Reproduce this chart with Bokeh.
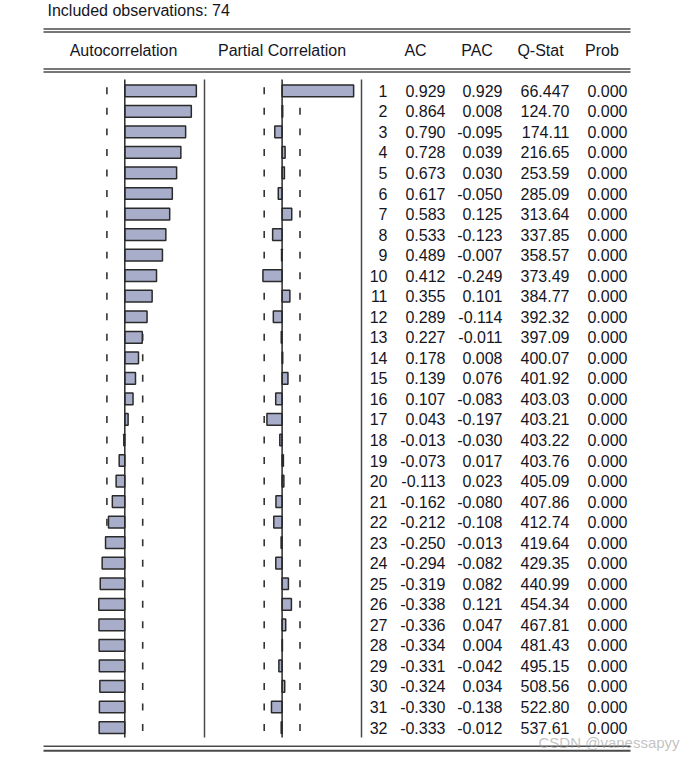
import numpy as np
from bokeh.plotting import figure
from bokeh.models import Range1d, ColumnDataSource
from bokeh.embed import file_html
from bokeh.resources import INLINE
from bokeh.core.properties import value

# ---------------- data ----------------
n_obs = 74
lags = list(range(1, 33))
ac = [0.929, 0.864, 0.790, 0.728, 0.673, 0.617, 0.583, 0.533, 0.489, 0.412,
      0.355, 0.289, 0.227, 0.178, 0.139, 0.107, 0.043, -0.013, -0.073, -0.113,
      -0.162, -0.212, -0.250, -0.294, -0.319, -0.338, -0.336, -0.334, -0.331,
      -0.324, -0.330, -0.333]
pac = [0.929, 0.008, -0.095, 0.039, 0.030, -0.050, 0.125, -0.123, -0.007,
       -0.249, 0.101, -0.114, -0.011, 0.008, 0.076, -0.083, -0.197, -0.030,
       0.017, 0.023, -0.080, -0.108, -0.013, -0.082, 0.082, 0.121, 0.047,
       0.004, -0.042, 0.034, -0.138, -0.012]
qstat = [66.447, 124.70, 174.11, 216.65, 253.59, 285.09, 313.64, 337.85,
         358.57, 373.49, 384.77, 392.32, 397.09, 400.07, 401.92, 403.03,
         403.21, 403.22, 403.76, 405.09, 407.86, 412.74, 419.64, 429.35,
         440.99, 454.34, 467.81, 481.43, 495.15, 508.56, 522.80, 537.61]
prob = [0.000] * 32
headers = ["AC", "PAC", "Q-Stat", "Prob"]
panel_titles = ["Autocorrelation", "Partial Correlation"]
title_text = "Included observations: %d" % n_obs
watermark = "CSDN @vanessapyy"

# ---------------- formatting ----------------
def fmt_q(q):
    digits = len(str(int(abs(q))))
    return f"{q:.{5 - digits}f}"

bound = 2.0 / np.sqrt(n_obs)
src = ColumnDataSource(dict(
    lag=lags,
    lag_s=[str(l) for l in lags],
    ac=ac, pac=pac,
    ac_s=[f"{v:.3f}" for v in ac],
    pac_s=[f"{v:.3f}" for v in pac],
    q_s=[fmt_q(q) for q in qstat],
    p_s=[f"{v:.3f}" for v in prob],
    zero=[0.0] * 32,
    lo=[l - 0.17 for l in lags],
    hi=[l + 0.17 for l in lags],
    bneg=[-bound] * 32,
    bpos=[bound] * 32,
))

# ---------------- layout constants ----------------
W, H = 696, 760
K = 77.0          # px per correlation unit
AC0 = 124.3       # px position of AC zero
PAC0 = 281.6      # px position of PAC zero
Y1 = 90.3         # px position of lag 1
S = 20.54         # px per lag row

FONT = value("Liberation Sans")
FS = "16px"
TXT = "#15151f"
LINE = "#4a4a4a"

p = figure(width=W, height=H, x_range=Range1d(0, W), y_range=Range1d(H, 0),
           output_backend="svg", toolbar_location=None, min_border=0)
p.axis.visible = False
p.grid.visible = False
p.outline_line_color = None
p.background_fill_color = "white"
p.border_fill_color = "white"

p.extra_x_ranges = {"ac": Range1d(-AC0 / K, (W - AC0) / K),
                    "pac": Range1d(-PAC0 / K, (W - PAC0) / K)}
p.extra_y_ranges = {"lag": Range1d(1 + (H - Y1) / S, 1 - Y1 / S)}

# title
p.text(x=47, y=10, text=[title_text], text_font=FONT, text_font_size=FS,
       text_color=TXT, text_align="left", text_baseline="middle")

# horizontal double rules
for yy, lw in [(28.5, 1.5), (31.5, 1.5), (68.5, 1.5), (71.5, 1.5), (745.8, 1.6), (750.3, 2.0)]:
    p.segment(x0=43, x1=630, y0=yy, y1=yy, line_color=LINE, line_width=lw)

# headers
p.text(x=[123, 281.5], y=[50, 50], text=panel_titles, text_font=FONT,
       text_font_size=FS, text_color=TXT, text_align="center", text_baseline="middle")
p.text(x=[415, 476.5, 540, 601.5], y=[50] * 4, text=headers, text_font=FONT,
       text_font_size=FS, text_color=TXT, text_align="center", text_baseline="middle")

# panel separators
for xx in [204, 361]:
    p.segment(x0=xx, x1=xx, y0=79, y1=737, line_color=LINE, line_width=1.5)

# dashed confidence bounds (one dash per row)
for rn in ["ac", "pac"]:
    for col in ["bneg", "bpos"]:
        p.segment(x0=col, x1=col, y0="lo", y1="hi", source=src,
                  x_range_name=rn, y_range_name="lag",
                  line_color="#333333", line_width=1.6)

# bars
p.hbar(y="lag", left="zero", right="ac", height=0.57, source=src,
       x_range_name="ac", y_range_name="lag",
       fill_color="#a8aeca", line_color="#2a2a2a", line_width=1.5)
p.hbar(y="lag", left="zero", right="pac", height=0.57, source=src,
       x_range_name="pac", y_range_name="lag",
       fill_color="#a8aeca", line_color="#2a2a2a", line_width=1.5)

# zero axes
for rn in ["ac", "pac"]:
    p.segment(x0=0, x1=0, y0=79, y1=737, x_range_name=rn,
              line_color="#2a2a2a", line_width=1.5)

# table columns
for xr, col in [(387, "lag_s"), (445, "ac_s"), (502, "pac_s"), (569, "q_s"), (627, "p_s")]:
    p.text(x=xr, y="lag", text=col, source=src, y_range_name="lag",
           text_font=FONT, text_font_size=FS, text_color=TXT,
           text_align="right", text_baseline="middle")

# watermark
p.text(x=538, y=742, text=[watermark], text_font=FONT, text_font_size="15px",
       text_color="#9a9a9a", text_alpha=0.6, text_align="left", text_baseline="middle")

open("out.html", "w").write(file_html(p, INLINE))
